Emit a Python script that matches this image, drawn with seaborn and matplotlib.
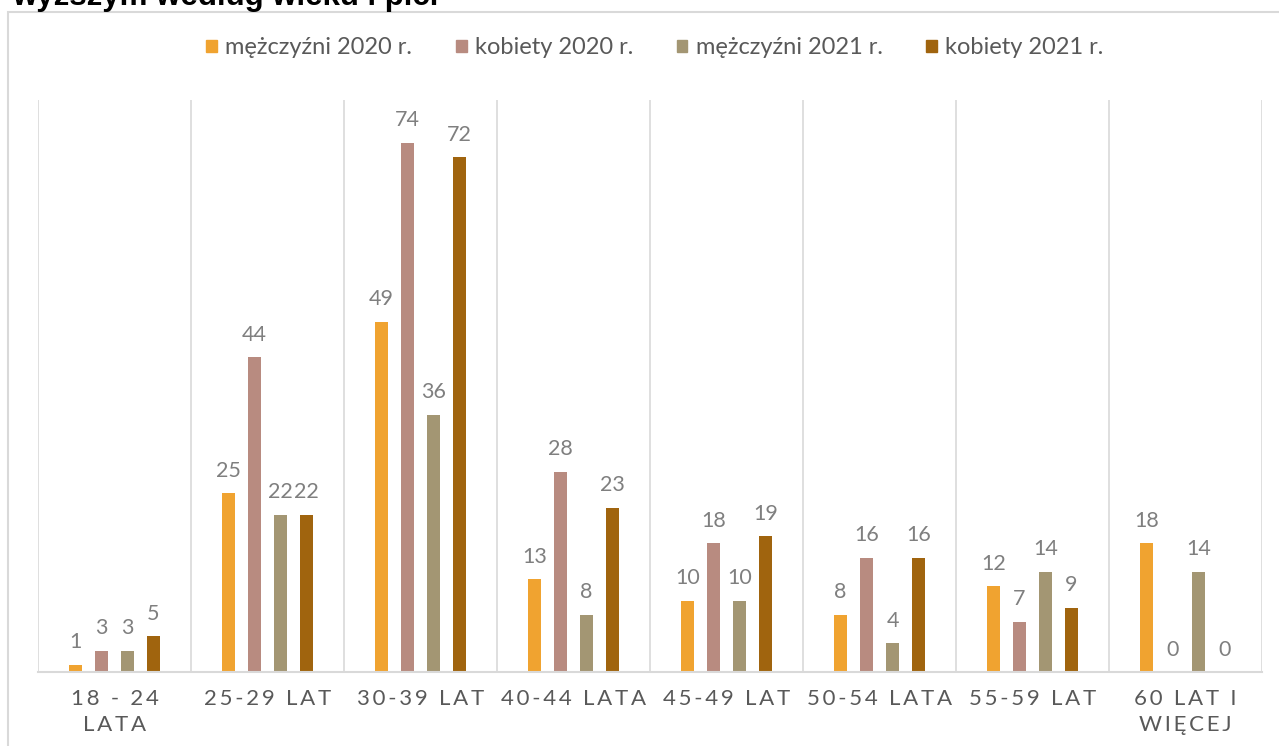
import pandas as pd
import matplotlib.pyplot as plt
import seaborn as sns
from matplotlib.patches import Rectangle

# Data
age_groups = ["18 - 24\nLATA", "25-29 LAT", "30-39 LAT", "40-44 LATA",
              "45-49 LAT", "50-54 LATA", "55-59 LAT", "60 LAT I\nWIĘCEJ"]
series_names = ["mężczyźni 2020 r.", "kobiety 2020 r.", "mężczyźni 2021 r.", "kobiety 2021 r."]
men_2020 = [1, 25, 49, 13, 10, 8, 12, 18]
women_2020 = [3, 44, 74, 28, 18, 16, 7, 0]
men_2021 = [3, 22, 36, 8, 10, 4, 14, 14]
women_2021 = [5, 22, 72, 23, 19, 16, 9, 0]
colors = ["#F0A330", "#B88B80", "#A39673", "#A0640E"]

rows = []
for name, vals in zip(series_names, [men_2020, women_2020, men_2021, women_2021]):
    for g, v in zip(age_groups, vals):
        rows.append({"group": g, "series": name, "value": v})
df = pd.DataFrame(rows)

sns.set_style("white")
plt.rcParams["font.family"] = ["Lato", "DejaVu Sans"]

fig = plt.figure(figsize=(12.79, 7.46), dpi=100)
ax = fig.add_axes([38 / 1279, 1 - 672 / 746, (1262 - 38) / 1279, (672 - 100) / 746])

sns.barplot(data=df, x="group", y="value", hue="series", order=age_groups,
            hue_order=series_names, palette=colors, width=0.68, gap=0.47,
            saturation=1, linewidth=0, ax=ax, legend=False)

for cont in ax.containers:
    ax.bar_label(cont, padding=9, fontsize=15.5, color="#7F7F7F")

ax.set_xlim(-0.5, 7.5)
ax.set_ylim(0, 80)
ax.set_yticks([])
ax.set_xlabel("")
ax.set_ylabel("")
for s in ["top", "left", "right"]:
    ax.spines[s].set_visible(False)
ax.spines["bottom"].set_color("#D9D9D9")
ax.spines["bottom"].set_linewidth(1.5)

# vertical separators between categories
for xb in [i - 0.5 for i in range(9)]:
    ax.axvline(xb, color="#D9D9D9", lw=1.2, zorder=0)


def spaced(t):
    # letter spacing like the excel axis labels
    return "\n".join("\u2009".join(line) for line in t.split("\n"))


ax.set_xticks(range(len(age_groups)))
ax.set_xticklabels([spaced(t) for t in age_groups], fontsize=16, color="#595959",
                   linespacing=1.4)
ax.tick_params(axis="x", length=0, pad=12)

# legend
handles = [Rectangle((0, 0), 1, 1, color=c) for c in colors]
fig.legend(handles, series_names, loc="center", bbox_to_anchor=(655 / 1279, 1 - 48 / 746),
           ncol=4, frameon=False, fontsize=17, labelcolor="#595959",
           handlelength=0.45, handleheight=0.45, handletextpad=0.35, columnspacing=1.85)

# chart frame
fig.patches.append(Rectangle((8 / 1279, -0.1), 1.2, 1.1 - 12 / 746, transform=fig.transFigure,
                             fill=False, edgecolor="#D9D9D9", lw=1.5))

# cut-off title above the frame
fig.text(12 / 1279, 1 - 5 / 746, "wyższym według wieku i płci", fontsize=22.5, fontweight="bold",
         family=["Liberation Sans", "DejaVu Sans"], color="black", va="baseline", ha="left")

fig.savefig("out.png", dpi=100)
